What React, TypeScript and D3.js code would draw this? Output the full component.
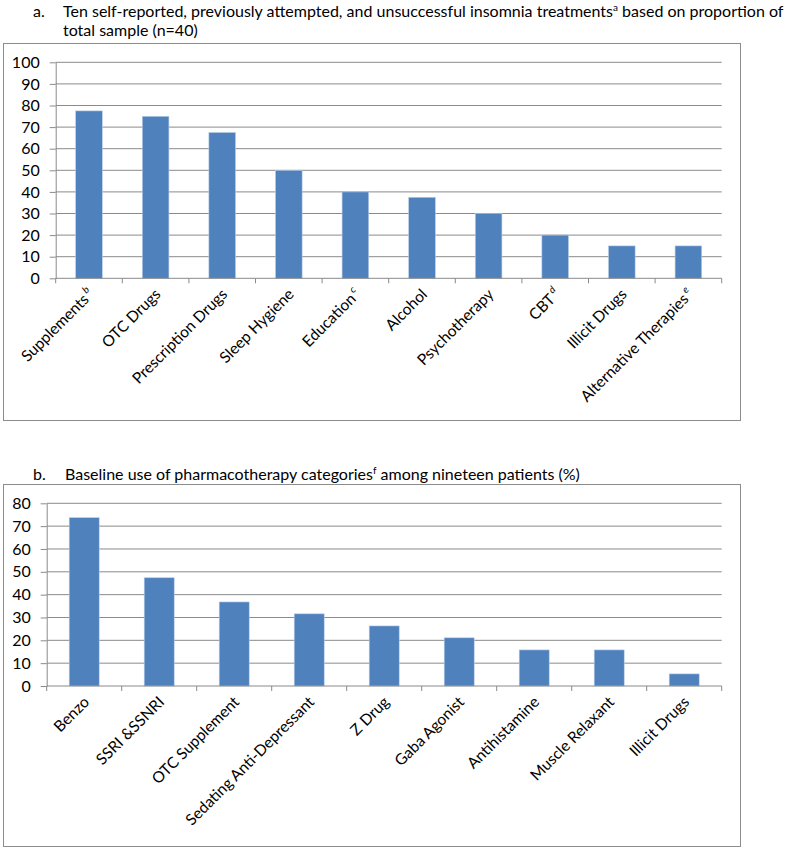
import React, { useEffect, useRef } from 'react';
import * as d3 from 'd3';

// panel a: previously attempted treatments (% of n=40)
const treatmentLabels = ['Supplements', 'OTC Drugs', 'Prescription Drugs', 'Sleep Hygiene', 'Education', 'Alcohol', 'Psychotherapy', 'CBT', 'Illicit Drugs', 'Alternative Therapies'];
const treatmentNotes = ['b', '', '', '', 'c', '', '', 'd', '', 'e'];
const treatmentValues = [77.5, 75, 67.5, 50, 40, 37.5, 30, 20, 15, 15];
const treatmentTicks = [0, 10, 20, 30, 40, 50, 60, 70, 80, 90, 100];

// panel b: baseline pharmacotherapy (% of 19 patients)
const drugLabels = ['Benzo', 'SSRI &SSNRI', 'OTC Supplement', 'Sedating Anti-Depressant', 'Z Drug', 'Gaba Agonist', 'Antihistamine', 'Muscle Relaxant', 'Illicit Drugs'];
const drugNotes = ['', '', '', '', '', '', '', '', ''];
const drugValues = [73.7, 47.4, 36.8, 31.6, 26.3, 21.1, 15.8, 15.8, 5.3];
const drugTicks = [0, 10, 20, 30, 40, 50, 60, 70, 80];

const FONT = 'Lato, "Open Sans", sans-serif';
const GRID = '#8a8a8a';
const BAR = '#4f81bd';

function drawBars(svg, { labels, notes, values, ticks, left, right, top, bottom }) {
  const g = svg.append('g');

  const x = d3.scaleBand()
    .domain(labels)
    .range([left, right])
    .paddingInner(0.6)
    .paddingOuter(0.3);

  const y = d3.scaleLinear()
    .domain([0, d3.max(ticks)])
    .range([bottom, top]);

  // horizontal gridlines
  g.append('g')
    .selectAll('line')
    .data(ticks.filter(t => t > 0))
    .join('line')
    .attr('x1', left)
    .attr('x2', right)
    .attr('y1', d => y(d))
    .attr('y2', d => y(d))
    .attr('stroke', GRID)
    .attr('stroke-width', 1);

  // y axis
  const yAxis = g.append('g')
    .attr('transform', `translate(${left},0)`)
    .call(d3.axisLeft(y).tickValues(ticks).tickSize(6).tickSizeOuter(0).tickPadding(10));
  yAxis.select('.domain').attr('stroke', GRID);
  yAxis.selectAll('line').attr('stroke', GRID);
  yAxis.selectAll('text')
    .attr('font-family', FONT)
    .attr('font-size', 16)
    .attr('fill', '#000');

  // bars
  g.append('g')
    .selectAll('rect')
    .data(values)
    .join('rect')
    .attr('x', (d, i) => x(labels[i]))
    .attr('width', x.bandwidth())
    .attr('y', d => y(d))
    .attr('height', d => y(0) - y(d))
    .attr('fill', BAR)
    .attr('stroke', '#b9cde5')
    .attr('stroke-width', 0.6);

  // x axis line + category boundary ticks
  const edge = d3.scaleLinear().domain([0, labels.length]).range([left, right]);
  g.append('line')
    .attr('x1', left).attr('x2', right)
    .attr('y1', bottom).attr('y2', bottom)
    .attr('stroke', GRID);
  g.append('g')
    .selectAll('line')
    .data(d3.range(labels.length + 1))
    .join('line')
    .attr('x1', d => edge(d)).attr('x2', d => edge(d))
    .attr('y1', bottom).attr('y2', bottom + 5)
    .attr('stroke', GRID);

  // rotated category labels
  const lab = g.append('g')
    .selectAll('text')
    .data(labels)
    .join('text')
    .attr('transform', d => `translate(${x(d) + x.bandwidth() / 2 + 6},${bottom + 17}) rotate(-45)`)
    .attr('text-anchor', 'end')
    .attr('font-family', FONT)
    .attr('font-size', 15.5)
    .attr('fill', '#000');
  lab.append('tspan').text(d => d);
  lab.filter((d, i) => notes[i] !== '')
    .append('tspan')
    .attr('dy', -7)
    .attr('dx', 2)
    .attr('font-size', 10)
    .attr('font-style', 'italic')
    .text(d => notes[labels.indexOf(d)]);
}

function App() {
  const svgRef = useRef();

  useEffect(() => {
    const svg = d3.select(svgRef.current);
    svg.selectAll('*').remove();

    // frames
    svg.append('rect')
      .attr('x', 3.5).attr('y', 43.5).attr('width', 737).attr('height', 377)
      .attr('fill', '#fff').attr('stroke', '#8c8c8c');
    svg.append('rect')
      .attr('x', 3.5).attr('y', 484.5).attr('width', 737).attr('height', 362)
      .attr('fill', '#fff').attr('stroke', '#8c8c8c');

    // titles
    const title = (parts, x, y, sup) => {
      const t = svg.append('text')
        .attr('x', x).attr('y', y)
        .attr('font-family', FONT)
        .attr('font-size', 16)
        .attr('fill', '#000');
      t.append('tspan').text(parts[0]);
      if (sup) {
        t.append('tspan').attr('dy', -6).attr('font-size', 10).text(sup);
        t.append('tspan').attr('dy', 6).text(parts[1]);
      }
      return t;
    };
    title(['a.'], 33, 17);
    title(['Ten self-reported, previously attempted, and unsuccessful insomnia treatments', ' based on proportion of'], 63, 17, 'a');
    title(['total sample (n=40)'], 63, 36);
    title(['b.'], 33, 480);
    title(['Baseline use of pharmacotherapy categories', ' among nineteen patients (%)'], 65, 480, 'f');

    drawBars(svg, {
      labels: treatmentLabels,
      notes: treatmentNotes,
      values: treatmentValues,
      ticks: treatmentTicks,
      left: 55.7, right: 721.7, top: 62.3, bottom: 278.3,
    });

    drawBars(svg, {
      labels: drugLabels,
      notes: drugNotes,
      values: drugValues,
      ticks: drugTicks,
      left: 46.7, right: 721.7, top: 503.3, bottom: 686,
    });
  }, []);

  return (
    <div style={{ position: 'absolute', left: 0, top: 0 }}>
      <svg ref={svgRef} width={794} height={849} style={{ display: 'block' }}></svg>
    </div>
  );
}

export default App;
